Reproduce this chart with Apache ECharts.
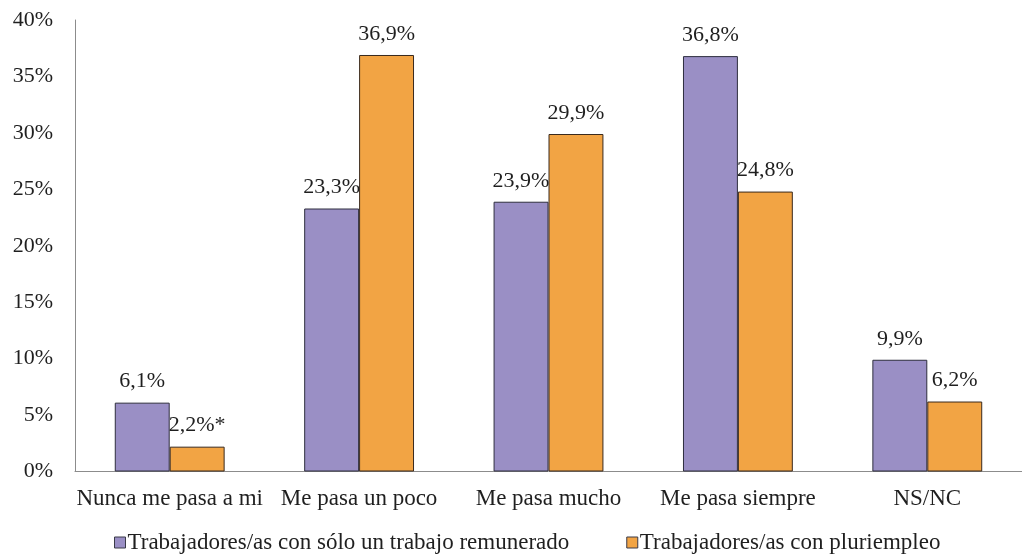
<!DOCTYPE html>
<html>
<head>
<meta charset="utf-8">
<script src="https://cdn.jsdelivr.net/npm/echarts@6/dist/echarts.min.js"></script>
<style>
  html, body { margin: 0; padding: 0; background: #fff; }
  #chart { width: 1022px; height: 556px; }
</style>
</head>
<body>
<div id="chart"></div>
<script>
// Survey responses by employment type (percent)
const categories = ['Nunca me pasa a mi', 'Me pasa un poco', 'Me pasa mucho', 'Me pasa siempre', 'NS/NC'];
const seriesNames = ['Trabajadores/as con sólo un trabajo remunerado', 'Trabajadores/as con pluriempleo'];
const soloUnTrabajo = [6.1, 23.3, 23.9, 36.8, 9.9];
const pluriempleo = [2.2, 36.9, 29.9, 24.8, 6.2];
// Footnote markers appended to specific labels
const pluriempleoMarks = ['*', '', '', '', ''];

const FONT = '"Liberation Serif", "Times New Roman", serif';
const TEXT = '#1f1f1f';

function fmt(v) {
  return v.toFixed(1).replace('.', ',') + '%';
}

const chart = echarts.init(document.getElementById('chart'));

const labelStyle = {
  show: true,
  position: 'top',
  distance: 10,
  fontFamily: FONT,
  fontSize: 22,
  lineHeight: 22,
  color: TEXT
};

chart.setOption({
  animation: false,
  textStyle: { fontFamily: FONT },
  grid: { left: 75, right: -8, top: 20, bottom: 84.5, containLabel: false },
  legend: {
    left: 109,
    top: 526,
    itemWidth: 11,
    itemHeight: 11,
    itemGap: 57,
    icon: 'rect',
    textStyle: { fontFamily: FONT, fontSize: 23, lineHeight: 23, color: TEXT, padding: [0, 0, 0, -3] },
    data: seriesNames.map(n => ({ name: n, itemStyle: { borderColor: '#3a3a48', borderWidth: 1 } }))
  },
  xAxis: {
    type: 'category',
    data: categories,
    axisLine: { lineStyle: { color: '#8c8c8c', width: 1 } },
    axisTick: { show: false },
    axisLabel: { fontFamily: FONT, fontSize: 23, lineHeight: 23, color: TEXT, margin: 16, interval: 0 }
  },
  yAxis: {
    type: 'value',
    min: 0,
    max: 40,
    interval: 5,
    axisLine: { show: true, lineStyle: { color: '#8c8c8c', width: 1 } },
    axisTick: { show: false },
    splitLine: { show: false },
    axisLabel: { fontFamily: FONT, fontSize: 22, color: TEXT, margin: 22, formatter: '{value}%' }
  },
  series: [
    {
      name: seriesNames[0],
      type: 'bar',
      data: soloUnTrabajo,
      barGap: '0%',
      barCategoryGap: '42%',
      itemStyle: { color: '#9a8fc5', borderColor: '#2e2e3e', borderWidth: 1 },
      label: Object.assign({}, labelStyle, { formatter: p => fmt(p.value) })
    },
    {
      name: seriesNames[1],
      type: 'bar',
      data: pluriempleo,
      itemStyle: { color: '#f2a444', borderColor: '#3a2a1e', borderWidth: 1 },
      label: Object.assign({}, labelStyle, { formatter: p => fmt(p.value) + pluriempleoMarks[p.dataIndex] })
    }
  ]
});
</script>
</body>
</html>
